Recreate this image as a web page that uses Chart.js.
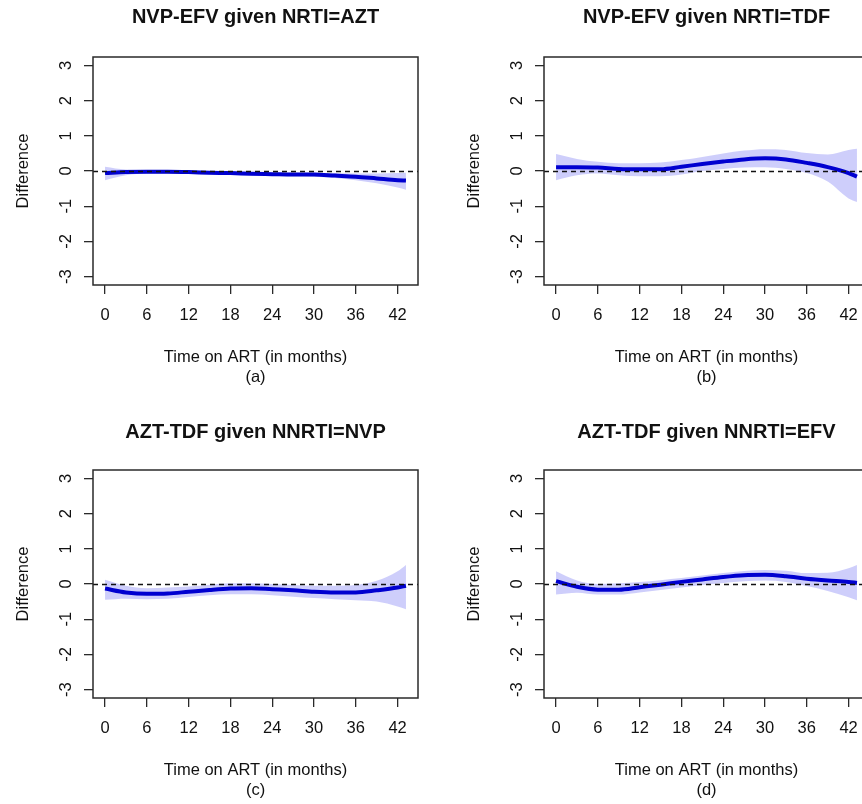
<!DOCTYPE html>
<html>
<head>
<meta charset="utf-8">
<title>Differences over time on ART</title>
<script src="https://cdn.jsdelivr.net/npm/chart.js@4.4.0/dist/chart.umd.min.js"></script>
<style>
  html, body { margin: 0; padding: 0; width: 862px; height: 804px; overflow: hidden; background: #fff; }
  canvas { position: absolute; }
</style>
</head>
<body>
<canvas id="panelA"></canvas>
<canvas id="panelB"></canvas>
<canvas id="panelC"></canvas>
<canvas id="panelD"></canvas>
<script>
// data
const months = [0, 3, 6, 9, 12, 15, 18, 21, 24, 27, 30, 33, 36, 39, 42, 43.2];
const xTicks = [0, 6, 12, 18, 24, 30, 36, 42];
const yTicks = [-3, -2, -1, 0, 1, 2, 3];

const titles = ['NVP-EFV given NRTI=AZT', 'NVP-EFV given NRTI=TDF', 'AZT-TDF given NNRTI=NVP', 'AZT-TDF given NNRTI=EFV'];
const tags = ['(a)', '(b)', '(c)', '(d)'];
const xLabel = 'Time on ART (in months)';
const yLabel = 'Difference';

const meanA  = [-0.06, -0.03, -0.02, -0.02, -0.03, -0.05, -0.06, -0.08, -0.09, -0.10, -0.10, -0.13, -0.16, -0.21, -0.26, -0.27];
const upperA = [0.12, 0.04, 0.03, 0.03, 0.02, 0.00, -0.01, -0.03, -0.04, -0.05, -0.05, -0.06, -0.07, -0.07, -0.06, -0.05];
const lowerA = [-0.26, -0.12, -0.07, -0.07, -0.08, -0.10, -0.11, -0.13, -0.14, -0.15, -0.16, -0.20, -0.26, -0.35, -0.47, -0.53];

const meanB  = [0.11, 0.11, 0.10, 0.06, 0.05, 0.05, 0.12, 0.20, 0.27, 0.33, 0.36, 0.33, 0.23, 0.11, -0.06, -0.16];
const upperB = [0.48, 0.34, 0.26, 0.22, 0.22, 0.24, 0.31, 0.40, 0.50, 0.58, 0.62, 0.60, 0.51, 0.47, 0.60, 0.63];
const lowerB = [-0.26, -0.12, -0.07, -0.12, -0.15, -0.15, -0.10, 0.00, 0.06, 0.10, 0.11, 0.06, -0.06, -0.30, -0.78, -0.88];

const meanC  = [-0.13, -0.24, -0.28, -0.27, -0.22, -0.17, -0.13, -0.12, -0.15, -0.18, -0.22, -0.24, -0.24, -0.18, -0.10, -0.05];
const upperC = [0.12, -0.05, -0.12, -0.10, -0.07, -0.02, 0.02, 0.02, 0.00, -0.03, -0.05, -0.05, -0.03, 0.09, 0.36, 0.54];
const lowerC = [-0.45, -0.42, -0.43, -0.42, -0.37, -0.32, -0.29, -0.29, -0.32, -0.36, -0.40, -0.43, -0.46, -0.50, -0.64, -0.72];

const meanD  = [0.08, -0.08, -0.16, -0.16, -0.09, -0.02, 0.06, 0.13, 0.20, 0.25, 0.26, 0.22, 0.15, 0.10, 0.06, 0.03];
const upperD = [0.36, 0.10, 0.00, 0.02, 0.06, 0.11, 0.17, 0.24, 0.31, 0.37, 0.40, 0.38, 0.31, 0.32, 0.45, 0.54];
const lowerD = [-0.30, -0.25, -0.30, -0.30, -0.24, -0.17, -0.10, -0.03, 0.03, 0.08, 0.10, 0.06, -0.06, -0.20, -0.38, -0.46];

// where each panel sits on the page (plot box = chart area)
const layouts = [
  { id: 'panelA', left: 0,   top: 0,   width: 431, height: 402, box: { l: 93,  r: 418, t: 57, b: 285 }, titleGap: 40 },
  { id: 'panelB', left: 431, top: 0,   width: 450, height: 402, box: { l: 113, r: 438, t: 57, b: 285 }, titleGap: 40 },
  { id: 'panelC', left: 0,   top: 402, width: 431, height: 402, box: { l: 93,  r: 418, t: 68, b: 296 }, titleGap: 38 },
  { id: 'panelD', left: 431, top: 402, width: 450, height: 402, box: { l: 113, r: 438, t: 68, b: 296 }, titleGap: 38 }
];

const FONT = "'Liberation Sans', Arial, sans-serif";
const INK = '#111';

function toPoints(ys) {
  return months.map((m, i) => ({ x: m, y: ys[i] }));
}

// box, zero line and the R-style text around each panel
function decorations(title, tag, titleGap) {
  return {
    id: 'decorations',
    afterDatasetsDraw(chart) {
      const ctx = chart.ctx;
      const a = chart.chartArea;
      const y0 = Math.round(chart.scales.y.getPixelForValue(0)) + 0.5;
      ctx.save();
      ctx.beginPath();
      ctx.rect(a.left, a.top, a.right - a.left, a.bottom - a.top);
      ctx.clip();
      ctx.setLineDash([5, 4]);
      ctx.strokeStyle = '#111';
      ctx.lineWidth = 1.5;
      ctx.beginPath();
      ctx.moveTo(a.left, y0);
      ctx.lineTo(a.right, y0);
      ctx.stroke();
      ctx.restore();
    },
    afterDraw(chart) {
      const ctx = chart.ctx;
      const a = chart.chartArea;
      const yScale = chart.scales.y;
      const cx = (a.left + a.right) / 2;
      const cy = (a.top + a.bottom) / 2;
      ctx.save();
      ctx.strokeStyle = '#2a2a2a';
      ctx.lineWidth = 1.5;
      ctx.strokeRect(a.left, a.top, a.right - a.left, a.bottom - a.top);

      ctx.fillStyle = INK;
      ctx.textAlign = 'center';
      ctx.textBaseline = 'middle';
      ctx.font = 'bold 20px ' + FONT;
      ctx.fillText(title, cx, a.top - titleGap);

      ctx.font = '16.5px ' + FONT;
      ctx.fillText(xLabel, cx, a.bottom + 72);
      ctx.fillText(tag, cx, a.bottom + 92);

      // rotated y tick labels, read bottom to top
      yTicks.forEach(v => {
        ctx.save();
        ctx.translate(a.left - 27, yScale.getPixelForValue(v));
        ctx.rotate(-Math.PI / 2);
        ctx.fillText(String(v), 0, 0);
        ctx.restore();
      });

      ctx.translate(a.left - 70, cy);
      ctx.rotate(-Math.PI / 2);
      ctx.fillText(yLabel, 0, 0);
      ctx.restore();
    }
  };
}

function makePanel(i, mean, upper, lower) {
  const lay = layouts[i];
  const canvas = document.getElementById(lay.id);
  canvas.width = lay.width;
  canvas.height = lay.height;
  canvas.style.left = lay.left + 'px';
  canvas.style.top = lay.top + 'px';

  const tickMarks = {
    display: true,
    drawOnChartArea: false,
    drawTicks: true,
    tickLength: 9,
    color: '#2a2a2a',
    lineWidth: 1.3
  };

  return new Chart(canvas.getContext('2d'), {
    type: 'line',
    data: {
      datasets: [
        { label: 'upper', data: toPoints(upper), borderWidth: 0, pointRadius: 0, fill: false,
          cubicInterpolationMode: 'monotone', order: 2 },
        { label: 'lower', data: toPoints(lower), borderWidth: 0, pointRadius: 0, fill: '-1',
          backgroundColor: 'rgba(190, 190, 250, 0.75)', cubicInterpolationMode: 'monotone', order: 1 },
        { label: 'difference', data: toPoints(mean), borderColor: '#0000d0', borderWidth: 4,
          pointRadius: 0, fill: false, cubicInterpolationMode: 'monotone', order: 0 }
      ]
    },
    options: {
      responsive: false,
      animation: false,
      events: [],
      layout: { padding: { top: lay.box.t, left: 0, bottom: 0, right: lay.width - lay.box.r } },
      plugins: { legend: { display: false }, tooltip: { enabled: false } },
      scales: {
        x: {
          type: 'linear',
          min: -1.73,
          max: 44.93,
          afterBuildTicks: s => { s.ticks = xTicks.map(v => ({ value: v })); },
          afterFit: s => { s.height = lay.height - lay.box.b; },
          grid: tickMarks,
          border: { display: false },
          ticks: { color: INK, font: { family: FONT, size: 16.5 }, padding: 12, maxRotation: 0, autoSkip: false }
        },
        y: {
          type: 'linear',
          min: -3.24,
          max: 3.24,
          afterBuildTicks: s => { s.ticks = yTicks.map(v => ({ value: v })); },
          afterFit: s => { s.width = lay.box.l; },
          grid: tickMarks,
          border: { display: false },
          ticks: { display: false }
        }
      }
    },
    plugins: [decorations(titles[i], tags[i], lay.titleGap)]
  });
}

window.onload = function() {
  makePanel(0, meanA, upperA, lowerA);
  makePanel(1, meanB, upperB, lowerB);
  makePanel(2, meanC, upperC, lowerC);
  makePanel(3, meanD, upperD, lowerD);
};
</script>
</body>
</html>
